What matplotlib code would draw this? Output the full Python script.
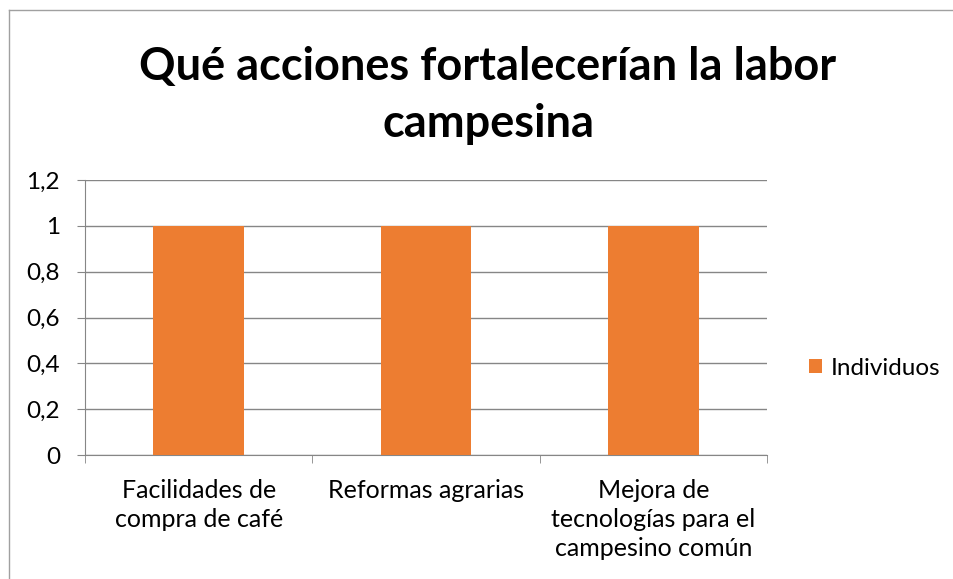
import matplotlib.pyplot as plt
import numpy as np
from matplotlib.lines import Line2D

categories = ["Facilidades de\ncompra de café", "Reformas agrarias",
              "Mejora de\ntecnologías para el\ncampesino común"]
values = [1, 1, 1]
series_name = "Individuos"
yticks = [0, 0.2, 0.4, 0.6, 0.8, 1, 1.2]
ytick_labels = ["0", "0,2", "0,4", "0,6", "0,8", "1", "1,2"]

plt.rcParams['font.family'] = ['Lato', 'DejaVu Sans']
orange = "#ED7D31"
gray = "#868686"

fig = plt.figure(figsize=(9.54, 5.79), dpi=100)
ax = fig.add_axes([85 / 954, 124 / 579, 682 / 954, 275 / 579])

x = np.arange(len(categories))
ax.bar(x, values, width=0.4, color=orange, label=series_name, zorder=3)

ax.set_xlim(-0.5, 2.5)
ax.set_ylim(0, 1.2)
ax.set_yticks(yticks)
ax.set_yticklabels(ytick_labels, fontsize=17.5)
ax.yaxis.grid(True, color=gray, linewidth=1, zorder=0)
ax.tick_params(axis='y', length=6, color=gray, pad=12)

ax.set_xticks(x)
ax.set_xticklabels(categories, fontsize=18, linespacing=1.32, va='top')
ax.tick_params(axis='x', which='major', length=0, pad=17)
ax.set_xticks([-0.5, 0.5, 1.5, 2.5], minor=True)
ax.tick_params(axis='x', which='minor', length=6, color=gray)

for s in ['top', 'right']:
    ax.spines[s].set_visible(False)
ax.spines['left'].set_color(gray)
ax.spines['bottom'].set_color(gray)

ax.set_title("Qué acciones fortalecerían la labor\ncampesina", fontsize=32.5,
             fontweight='bold', x=0.591, pad=31, linespacing=1.45)

ax.legend(loc='center left', bbox_to_anchor=(1.04, 0.316), frameon=False,
          fontsize=17.5, handlelength=0.55, handleheight=0.55, handletextpad=0.35,
          borderaxespad=0.2)

# outer chart border
fig.add_artist(Line2D([9.5 / 954, 9.5 / 954], [0, 1 - 9.5 / 579],
                      transform=fig.transFigure, color="#A0A0A0", linewidth=1))
fig.add_artist(Line2D([9.5 / 954, 1], [1 - 9.5 / 579, 1 - 9.5 / 579],
                      transform=fig.transFigure, color="#A0A0A0", linewidth=1))

fig.savefig("out.png", dpi=100)
